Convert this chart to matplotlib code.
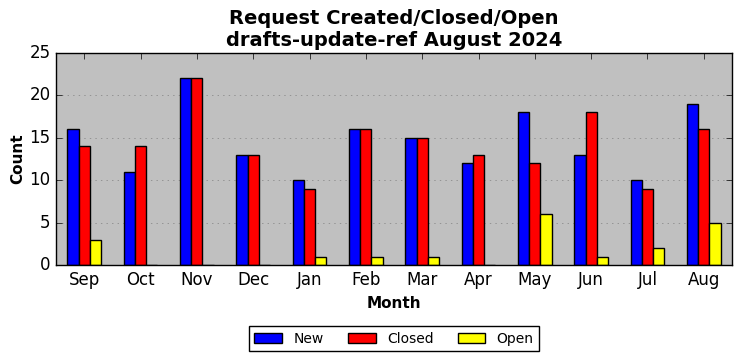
import numpy as np
import matplotlib
matplotlib.use("Agg")
import matplotlib.pyplot as plt

months = ["Sep", "Oct", "Nov", "Dec", "Jan", "Feb", "Mar", "Apr", "May", "Jun", "Jul", "Aug"]
new = [16, 11, 22, 13, 10, 16, 15, 12, 18, 13, 10, 19]
closed = [14, 14, 22, 13, 9, 16, 15, 13, 12, 18, 9, 16]
open_ = [3, 0, 0, 0, 1, 1, 1, 0, 6, 1, 2, 5]

plt.style.use("classic")
plt.rcParams["figure.facecolor"] = "white"
plt.rcParams["savefig.facecolor"] = "white"

fig = plt.figure(figsize=(7.42, 3.61), dpi=100)
ax = fig.add_axes([56 / 742, 1 - 265 / 361, 676 / 742, 212 / 361])
ax.set_facecolor("#c0c0c0")

x = np.arange(len(months))
w = 0.2
ax.bar(x - w, new, w, color="blue", edgecolor="black", label="New", align="center")
ax.bar(x, closed, w, color="red", edgecolor="black", label="Closed", align="center")
ax.bar(x + w, open_, w, color="yellow", edgecolor="black", label="Open", align="center")

ax.set_xlim(-0.5, 11.5)
ax.set_ylim(0, 25)
ax.set_xticks(x)
ax.set_xticklabels(months)
ax.set_yticks([0, 5, 10, 15, 20, 25])
ax.yaxis.grid(True, linestyle=":", color="gray")
ax.xaxis.grid(False)
ax.set_axisbelow(True)

ax.set_title("Request Created/Closed/Open\ndrafts-update-ref August 2024",
             fontsize=14, fontweight="bold")
ax.set_xlabel("Month", fontsize=11, fontweight="bold")
ax.set_ylabel("Count", fontsize=11, fontweight="bold", labelpad=3)

ax.legend(loc="upper center", bbox_to_anchor=(0.5, -0.255), ncol=3,
          fontsize=10, fancybox=False, framealpha=1, columnspacing=1.75)

fig.savefig("out.png", dpi=100)
